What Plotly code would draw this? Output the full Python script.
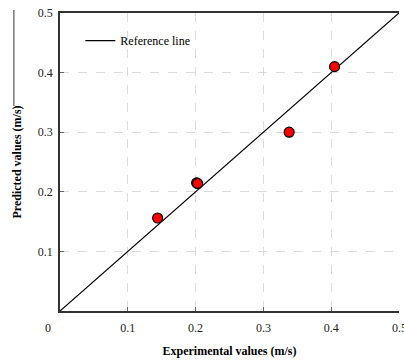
import plotly.graph_objects as go

experimental = [0.144, 0.2015, 0.2030, 0.338, 0.405]
predicted = [0.156, 0.2150, 0.2140, 0.300, 0.410]
ref_x = [0, 0.5]
ref_y = [0, 0.5]
tick_vals = [0.1, 0.2, 0.3, 0.4, 0.5]
tick_text = ["0.1", "0.2", "0.3", "0.4", "0.5"]
origin_label = "0"

font_family = "Liberation Serif"
tick_font = dict(family=font_family, size=12, color="#222")

fig = go.Figure()
fig.add_trace(go.Scatter(x=ref_x, y=ref_y, mode="lines", name="Reference line",
                         line=dict(color="black", width=1.2)))
fig.add_trace(go.Scatter(x=experimental, y=predicted, mode="markers", showlegend=False,
                         marker=dict(color="#ff0000", size=10, line=dict(color="black", width=1.2))))

axis_common = dict(range=[0, 0.5], tickvals=tick_vals,
                   showgrid=True, gridcolor="#dcdcdc", griddash="dash", gridwidth=1,
                   showline=True, linecolor="#333333", linewidth=1.5,
                   ticks="inside", ticklen=4, tickcolor="#666666",
                   zeroline=False, tickfont=tick_font)

x_ticktext = tick_text[:-1] + [""]

fig.update_layout(
    width=404, height=361,
    margin=dict(l=60, r=5, t=13, b=47),
    paper_bgcolor="white", plot_bgcolor="white",
    font=dict(family=font_family, size=12, color="black"),
    xaxis=dict(**axis_common, ticktext=x_ticktext, mirror=True, ticklabelstandoff=5,
               automargin="bottom",
               title=dict(text="<b>Experimental values (m/s)</b>", standoff=12,
                          font=dict(family=font_family, size=12))),
    yaxis=dict(**axis_common, ticktext=tick_text, ticklabelstandoff=3, automargin="left",
               title=dict(text="<b>Predicted values (m/s)</b>", standoff=14,
                          font=dict(family=font_family, size=12))),
    legend=dict(x=0.06, y=0.907, xanchor="left", yanchor="middle",
                bgcolor="rgba(0,0,0,0)", font=dict(family=font_family, size=12)),
    annotations=[
        dict(text=origin_label, x=0, y=0, xref="x", yref="y", showarrow=False,
             xshift=-12, yshift=-17, font=tick_font),
        dict(text=tick_text[-1], x=tick_vals[-1], y=0, xref="x", yref="y", showarrow=False,
             xanchor="center", yshift=-17, font=tick_font),
    ],
    shapes=[dict(type="line", xref="paper", yref="paper", x0=-0.136, x1=-0.136,
                 y0=1.01, y1=0.688, line=dict(color="#333333", width=1))],
)

fig.write_html("out.html", config={"displayModeBar": False},
               post_script="document.body.style.margin='0';")
